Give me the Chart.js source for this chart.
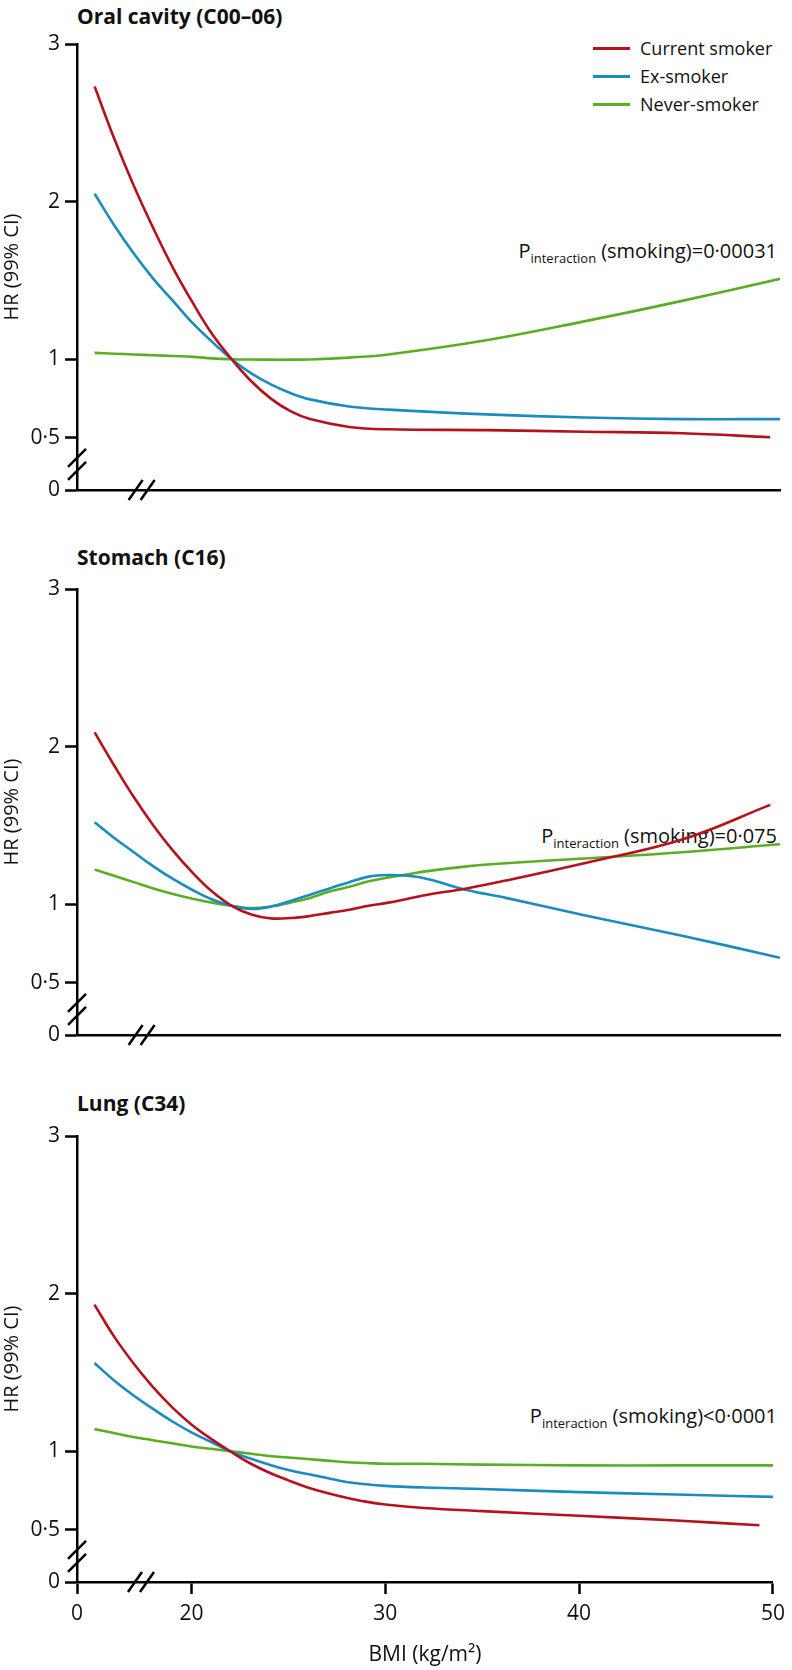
<!DOCTYPE html>
<html lang="en">
<head>
  <meta charset="UTF-8" />
  <title>HR by BMI and smoking status</title>
  <script src="https://cdn.jsdelivr.net/npm/chart.js"></script>
  <style>
    body { margin: 0; width: 792px; height: 1670px; position: relative; background: #fff; font-family: "Open Sans", sans-serif; color: #111; overflow: hidden; }
    canvas { position: absolute; left: 0; }
    .title { position: absolute; left: 77px; font-size: 21px; font-weight: bold; line-height: 26px; white-space: nowrap; }
    .pnote { position: absolute; right: 15px; font-size: 20px; line-height: 24px; white-space: nowrap; }
    .pnote sub { font-size: 13px; vertical-align: -5px; margin-right: 5px; }
    .legend { position: absolute; left: 593px; font-size: 18px; line-height: 22px; white-space: nowrap; }
    .legend span { display: inline-block; width: 37px; height: 0; border-top: 3px solid; vertical-align: middle; margin-right: 10px; margin-top: -3px; }
  </style>
</head>
<body>

  <div class="title" style="top:3px">Oral cavity (C00–06)</div>
  <div class="title" style="top:544px">Stomach (C16)</div>
  <div class="title" style="top:1090px">Lung (C34)</div>

  <div class="legend" style="top:37px"><span style="border-color:#b5121b"></span>Current smoker</div>
  <div class="legend" style="top:65px"><span style="border-color:#1a8cc0"></span>Ex-smoker</div>
  <div class="legend" style="top:93px"><span style="border-color:#5aae22"></span>Never-smoker</div>

  <div class="pnote" style="top:239px">P<sub>interaction</sub>(smoking)=0·00031</div>
  <div class="pnote" style="top:824px">P<sub>interaction</sub>(smoking)=0·075</div>
  <div class="pnote" style="top:1404px">P<sub>interaction</sub>(smoking)&lt;0·0001</div>

  <canvas id="oralChart" width="792" height="496" style="top:24px"></canvas>
  <canvas id="stomachChart" width="792" height="496" style="top:569px"></canvas>
  <canvas id="lungChart" width="792" height="554" style="top:1116px"></canvas>

  <script>
    // axis ticks (x axis is broken between 0 and 20, y axis between 0 and 0.5)
    const xTickValues = [14.1, 20, 30, 40, 50];
    const xTickLabels = ['0', '20', '30', '40', '50'];
    const yTickValues = [0.17, 0.5, 1, 2, 3];
    const yTickLabels = ['0', '0·5', '1', '2', '3'];

    const seriesNames = ['Current smoker', 'Ex-smoker', 'Never-smoker'];
    const seriesColors = ['#b5121b', '#1a8cc0', '#5aae22'];

    // Oral cavity (C00-06)
    const oralBmi = [15, 16, 17, 18, 19, 20, 21, 22, 23, 24, 25, 26, 28, 30, 35, 40, 45, 49.5];
    const oralBmiLong = [15, 16, 17, 18, 19, 20, 21, 22, 23, 24, 25, 26, 28, 30, 35, 40, 45, 50];
    const oralCurrent = [2.73, 2.40, 2.10, 1.83, 1.58, 1.36, 1.16, 1.0, 0.86, 0.75, 0.67, 0.62, 0.57, 0.555, 0.55, 0.54, 0.53, 0.505];
    const oralEx = [2.05, 1.85, 1.67, 1.51, 1.37, 1.23, 1.11, 1.0, 0.91, 0.84, 0.785, 0.745, 0.70, 0.68, 0.65, 0.63, 0.62, 0.62];
    const oralNever = [1.04, 1.035, 1.03, 1.025, 1.02, 1.015, 1.005, 1.0, 0.998, 0.997, 0.997, 0.998, 1.01, 1.03, 1.12, 1.24, 1.37, 1.51];

    // Stomach (C16)
    const stomachBmi = [15, 16, 17, 18, 19, 20, 21, 22, 23, 24, 25, 26, 27, 28, 29, 30, 31, 32, 34, 36, 40, 45, 49.5];
    const stomachBmiLong = [15, 16, 17, 18, 19, 20, 21, 22, 23, 24, 25, 26, 27, 28, 29, 30, 31, 32, 34, 36, 40, 45, 50];
    const stomachCurrent = [2.09, 1.88, 1.68, 1.50, 1.34, 1.20, 1.08, 0.99, 0.935, 0.91, 0.912, 0.925, 0.945, 0.965, 0.99, 1.01, 1.035, 1.06, 1.10, 1.15, 1.26, 1.41, 1.63];
    const stomachEx = [1.52, 1.42, 1.33, 1.24, 1.16, 1.09, 1.03, 0.99, 0.97, 0.985, 1.02, 1.06, 1.10, 1.14, 1.175, 1.185, 1.18, 1.16, 1.09, 1.04, 0.93, 0.80, 0.66];
    const stomachNever = [1.22, 1.18, 1.14, 1.10, 1.065, 1.035, 1.01, 0.99, 0.975, 0.985, 1.01, 1.04, 1.08, 1.11, 1.145, 1.17, 1.19, 1.21, 1.24, 1.26, 1.29, 1.33, 1.38];

    // Lung (C34)
    const lungBmi = [15, 16, 17, 18, 19, 20, 21, 22, 23, 24, 25, 26, 27, 28, 29, 30, 32, 35, 40, 45, 49.3];
    const lungBmiLong = [15, 16, 17, 18, 19, 20, 21, 22, 23, 24, 25, 26, 27, 28, 29, 30, 32, 35, 40, 45, 50];
    const lungCurrent = [1.93, 1.73, 1.56, 1.41, 1.28, 1.17, 1.08, 1.0, 0.925, 0.865, 0.815, 0.77, 0.735, 0.705, 0.68, 0.662, 0.64, 0.62, 0.59, 0.56, 0.53];
    const lungEx = [1.56, 1.45, 1.355, 1.27, 1.19, 1.12, 1.06, 1.0, 0.955, 0.915, 0.88, 0.855, 0.83, 0.805, 0.79, 0.78, 0.77, 0.76, 0.74, 0.725, 0.71];
    const lungNever = [1.14, 1.115, 1.09, 1.07, 1.05, 1.03, 1.015, 1.0, 0.985, 0.97, 0.96, 0.95, 0.94, 0.93, 0.925, 0.92, 0.92, 0.915, 0.91, 0.91, 0.91];

    const tickFont = { family: 'Open Sans', size: 21 };

    // draws the "//" axis break marks
    const axisBreaks = {
      id: 'axisBreaks',
      afterDraw(chart) {
        const { ctx, chartArea, scales } = chart;
        ctx.save();
        ctx.strokeStyle = '#000';
        ctx.lineWidth = 2.5;
        const yb = scales.y.getPixelForValue(0.33);
        [-7, 6].forEach(off => {
          ctx.beginPath();
          ctx.moveTo(chartArea.left - 9, yb + off + 9);
          ctx.lineTo(chartArea.left + 9, yb + off - 9);
          ctx.stroke();
        });
        const xb = scales.x.getPixelForValue(17.4);
        [-6, 6].forEach(off => {
          ctx.beginPath();
          ctx.moveTo(xb + off - 7, chartArea.bottom + 10);
          ctx.lineTo(xb + off + 7, chartArea.bottom - 10);
          ctx.stroke();
        });
        ctx.restore();
      }
    };

    function makeChart(id, xs, ys, showX, xAxisHeight) {
      const datasets = ys.map((vals, i) => ({
        label: seriesNames[i],
        data: vals.map((v, j) => ({ x: xs[i][j], y: v })),
        borderColor: seriesColors[i],
        borderWidth: 2.6,
        pointRadius: 0,
        tension: 0.4,
        fill: false
      }));
      new Chart(document.getElementById(id), {
        type: 'line',
        data: { datasets },
        plugins: [axisBreaks],
        options: {
          responsive: false,
          animation: false,
          layout: { padding: { top: 20, right: 12, left: 0, bottom: 0 } },
          plugins: { legend: { display: false }, tooltip: { enabled: false } },
          scales: {
            x: {
              type: 'linear', min: 14.1, max: 50,
              afterBuildTicks: s => { s.ticks = xTickValues.map(v => ({ value: v })); },
              afterFit: s => { s.height = xAxisHeight; },
              ticks: { display: showX, autoSkip: false, maxRotation: 0, padding: 7, color: '#111', font: tickFont,
                       callback: (v, i) => xTickLabels[i] },
              grid: { drawOnChartArea: false, drawTicks: showX, tickLength: 12, tickWidth: 2.5, tickColor: '#000' },
              border: { color: '#000', width: 2.5 },
              title: { display: showX, text: 'BMI (kg/m²)', color: '#111', font: { family: 'Open Sans', size: 21 }, padding: { top: 0, bottom: 2 } }
            },
            y: {
              type: 'linear', min: 0.17, max: 3,
              afterBuildTicks: s => { s.ticks = yTickValues.map(v => ({ value: v })); },
              afterFit: s => { s.width = 77; },
              ticks: { autoSkip: false, padding: 5, color: '#111', font: tickFont,
                       callback: (v, i) => yTickLabels[i] },
              grid: { drawOnChartArea: false, drawTicks: true, tickLength: 12, tickWidth: 2.5, tickColor: '#000' },
              border: { color: '#000', width: 2.5 },
              title: { display: true, text: 'HR (99% CI)', color: '#111', font: { family: 'Open Sans', size: 20 }, padding: { top: 0, bottom: 0 } }
            }
          }
        }
      });
    }

    makeChart('oralChart', [oralBmi, oralBmiLong, oralBmiLong], [oralCurrent, oralEx, oralNever], false, 30);
    makeChart('stomachChart', [stomachBmi, stomachBmiLong, stomachBmiLong], [stomachCurrent, stomachEx, stomachNever], false, 30);
    makeChart('lungChart', [lungBmi, lungBmiLong, lungBmiLong], [lungCurrent, lungEx, lungNever], true, 88);
  </script>
</body>
</html>
